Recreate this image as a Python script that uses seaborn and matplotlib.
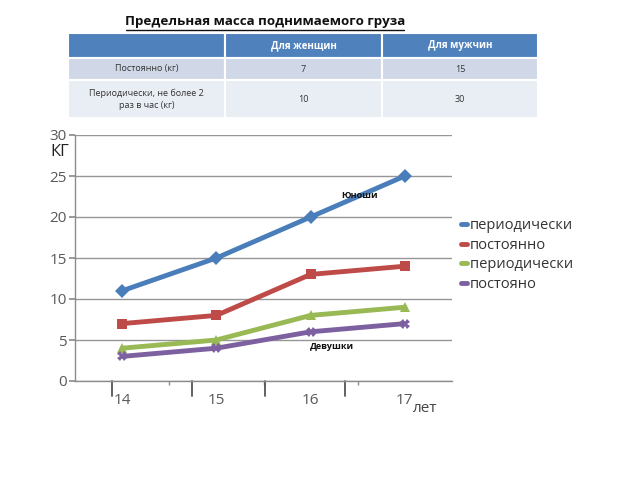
import matplotlib
matplotlib.use("Agg")
import matplotlib.pyplot as plt
from matplotlib.lines import Line2D
from matplotlib.patches import Rectangle
import seaborn as sns
import pandas as pd

# ---- data ----
title = "Предельная масса поднимаемого груза"
table_header = ["", "Для женщин", "Для мужчин"]
table_rows = [["Постоянно (кг)", "7", "15"],
              ["Периодически, не более 2\nраз в час (кг)", "10", "30"]]

ages = ["14", "15", "16", "17"]
series_names = ["периодически", "постоянно", "периодически ", "постояно"]
boys_periodic = [11, 15, 20, 25]
boys_constant = [7, 8, 13, 14]
girls_periodic = [4, 5, 8, 9]
girls_constant = [3, 4, 6, 7]
series_values = [boys_periodic, boys_constant, girls_periodic, girls_constant]
colors = ["#4A7EBB", "#BE4B48", "#98B954", "#7D60A0"]
markers = ["D", "s", "^", "X"]

rows = []
for name, vals in zip(series_names, series_values):
    for i, (a, v) in enumerate(zip(ages, vals)):
        rows.append({"idx": i, "age": a, "value": v, "series": name})
df = pd.DataFrame(rows)

sns.set_theme(style="white")
plt.rcParams['font.family'] = ['Open Sans', 'DejaVu Sans']

fig = plt.figure(figsize=(6.4, 4.8), dpi=100)
W, H = 640, 480

def fx(px):
    return px / W

def fy(py):
    return 1 - py / H

# ---- title ----
fig.text(fx(265), fy(22), title, ha="center", va="center", fontsize=9.6,
         fontweight="bold", color="#111111")
fig.add_artist(Line2D([fx(126), fx(404)], [fy(30), fy(30)], color="#111111", lw=1))

# ---- table ----
col_edges = [68, 225, 382, 538]
row_edges = [33, 58, 80, 118]
row_colors = ["#4F81BD", "#D0D8E8", "#E9EDF4"]
all_rows = [table_header] + table_rows
for r, row in enumerate(all_rows):
    for c, txt in enumerate(row):
        x0, x1 = col_edges[c], col_edges[c + 1]
        y0, y1 = row_edges[r], row_edges[r + 1]
        fig.add_artist(Rectangle((fx(x0), fy(y1)), fx(x1 - x0), (y1 - y0) / H,
                                 facecolor=row_colors[r], edgecolor="white", lw=1.5))
        if txt:
            if r == 0:
                fig.text(fx((x0 + x1) / 2), fy((y0 + y1) / 2), txt, ha="center",
                         va="center", fontsize=7, fontweight="bold", color="white")
            else:
                fig.text(fx((x0 + x1) / 2), fy((y0 + y1) / 2), txt, ha="center",
                         va="center", fontsize=6.5, color="#333333", linespacing=1.4)

# ---- chart ----
ax = fig.add_axes([fx(75), fy(381), fx(452 - 75), (381 - 135) / H])
sns.lineplot(data=df, x="idx", y="value", hue="series", style="series",
             palette=colors, markers=markers, dashes=False, lw=3.5,
             markersize=7, markeredgewidth=0, ax=ax, legend=False,
             hue_order=series_names, style_order=series_names)

ax.set_xlim(-0.5, 3.5)
ax.set_ylim(0, 30)
ax.set_yticks(range(0, 31, 5))
ax.set_xticks(range(len(ages)))
ax.set_xticklabels(ages)
ax.yaxis.grid(True, color="#969696", lw=1)
ax.set_axisbelow(True)
for s in ["top", "right"]:
    ax.spines[s].set_visible(False)
for s in ["left", "bottom"]:
    ax.spines[s].set_color("#8C8C8C")
    ax.spines[s].set_linewidth(1)
ax.tick_params(axis="y", left=True, length=4, color="#8C8C8C", labelsize=11,
               labelcolor="#595959", pad=2)
ax.tick_params(axis="x", bottom=False, labelsize=11, labelcolor="#595959", pad=3)
ax.set_xticks([0.5, 1.5, 2.5], minor=True)
ax.tick_params(axis="x", which="minor", bottom=True, length=3, color="#8C8C8C")
ax.set_xlabel("")
ax.set_ylabel("")

# decorative long separators below the axis
for xd in [-0.11, 0.74, 1.52, 2.37]:
    ax.plot([xd, xd], [0, -1.8], color="#555555", lw=1.3, clip_on=False)

fig.text(fx(60), fy(152), "КГ", ha="center", va="center", fontsize=12, color="#222222")
fig.text(fx(425), fy(408), "лет", ha="center", va="center", fontsize=11, color="#444444")

ax.text(2.32, 22.6, "Юноши", fontsize=6.5, fontweight="bold", color="#111111",
        ha="left", va="center")
ax.text(1.99, 4.2, "Девушки", fontsize=6.5, fontweight="bold", color="#111111",
        ha="left", va="center")

handles = [Line2D([], [], color=c, lw=3.5) for c in colors]
fig.legend(handles, series_names, loc="upper left",
           bbox_to_anchor=(fx(455), fy(212)), frameon=False, fontsize=10.5,
           handlelength=0.45, handletextpad=0.15, labelspacing=0.33,
           labelcolor="#333333", borderaxespad=0)

fig.savefig("out.png", dpi=100)
